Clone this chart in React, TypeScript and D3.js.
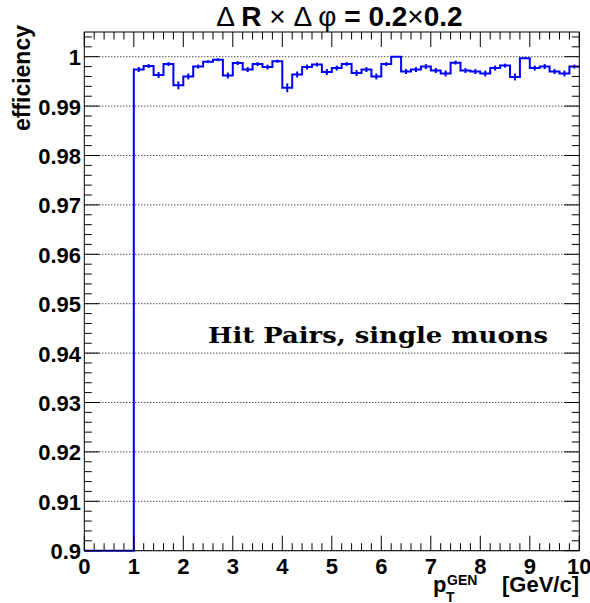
import React from "react";
import * as d3 from "d3";

// Histogram: bins of width 0.2 GeV/c from 0 to 10
const binWidth = 0.2;
const binLowEdges = d3.range(0, 10 - 1e-9, binWidth);

// efficiency per bin (0–1 GeV/c bins are empty)
const efficiency = [
  0, 0, 0, 0, 0,
  0.9974, 0.9981, 0.9963, 0.9985, 0.9942,
  0.996, 0.998, 0.999, 0.9994, 0.9962,
  0.9987, 0.9974, 0.9985, 0.9979, 0.9991,
  0.9937, 0.9964, 0.9979, 0.9984, 0.9969,
  0.9977, 0.9985, 0.9967, 0.9974, 0.996,
  0.9985, 1.0, 0.997, 0.9974, 0.998,
  0.9972, 0.9966, 0.9988, 0.9972, 0.997,
  0.9966, 0.9977, 0.9982, 0.9959, 0.9997,
  0.9977, 0.998, 0.997, 0.9966, 0.998,
];

const efficiencyError = [
  0, 0, 0, 0, 0,
  0.0005, 0.0004, 0.0006, 0.0004, 0.0008,
  0.0006, 0.0004, 0.0003, 0.0003, 0.0006,
  0.0004, 0.0005, 0.0004, 0.0005, 0.0003,
  0.0009, 0.0006, 0.0005, 0.0004, 0.0006,
  0.0005, 0.0004, 0.0006, 0.0005, 0.0006,
  0.0004, 0, 0.0005, 0.0005, 0.0005,
  0.0005, 0.0006, 0.0004, 0.0005, 0.0005,
  0.0006, 0.0005, 0.0004, 0.0007, 0.0002,
  0.0005, 0.0005, 0.0005, 0.0006, 0.0004,
];

const xMajorTicks = [0, 1, 2, 3, 4, 5, 6, 7, 8, 9, 10];
const yMajorTicks = [0.9, 0.91, 0.92, 0.93, 0.94, 0.95, 0.96, 0.97, 0.98, 0.99, 1.0];
const yTickLabels = ["0.9", "0.91", "0.92", "0.93", "0.94", "0.95", "0.96", "0.97", "0.98", "0.99", "1"];

const FRAME = { left: 84.3, right: 579.3, top: 32, bottom: 550.7 };
const SANS = "'Liberation Sans', Arial, Helvetica, sans-serif";
const BLUE = "#0000ff";

export default function App() {
  const x = d3.scaleLinear().domain([0, 10]).range([FRAME.left, FRAME.right]);
  const y = d3.scaleLinear().domain([0.9, 1.005]).range([FRAME.bottom, FRAME.top]).clamp(true);

  const xMinor = d3.range(0, 10.0001, 0.2).filter((v) => Math.abs(v - Math.round(v)) > 1e-6);
  const yMinor = d3.range(0.9, 1.0051, 0.002).filter((v) => Math.abs(v * 100 - Math.round(v * 100)) > 1e-6);

  // step outline
  let d = "";
  binLowEdges.forEach((lo, i) => {
    const yy = y(efficiency[i]);
    if (i === 0) d += `M${x(lo)},${yy}`;
    else d += `V${yy}`;
    d += `H${x(lo + binWidth)}`;
  });

  const majorLen = 15;
  const minorLen = 7.5;

  return (
    <svg width={590} height={603} style={{ position: "absolute", left: 0, top: 0, background: "#fff" }}>
      <rect x={0} y={0} width={590} height={603} fill="#fff" />
      {/* grid */}
      {yMajorTicks.map((t) => (
        <line key={"g" + t} x1={FRAME.left} x2={FRAME.right} y1={y(t)} y2={y(t)} stroke="#000" strokeWidth={1} strokeDasharray="1,2" />
      ))}
      {/* histogram */}
      <path d={d} fill="none" stroke={BLUE} strokeWidth={2} />
      {binLowEdges.map((lo, i) =>
        efficiencyError[i] > 0 ? (
          <line key={"e" + i} x1={x(lo + binWidth / 2)} x2={x(lo + binWidth / 2)}
            y1={y(efficiency[i] - efficiencyError[i])} y2={y(efficiency[i] + efficiencyError[i])}
            stroke={BLUE} strokeWidth={2} />
        ) : null
      )}
      {/* frame */}
      <rect x={FRAME.left} y={FRAME.top} width={FRAME.right - FRAME.left} height={FRAME.bottom - FRAME.top} fill="none" stroke="#000" strokeWidth={1} />
      {/* x ticks (bottom & top) */}
      {xMajorTicks.map((t) => (
        <g key={"xt" + t}>
          <line x1={x(t)} x2={x(t)} y1={FRAME.bottom} y2={FRAME.bottom - majorLen} stroke="#000" />
          <line x1={x(t)} x2={x(t)} y1={FRAME.top} y2={FRAME.top + majorLen} stroke="#000" />
        </g>
      ))}
      {xMinor.map((t) => (
        <g key={"xm" + t}>
          <line x1={x(t)} x2={x(t)} y1={FRAME.bottom} y2={FRAME.bottom - minorLen} stroke="#000" />
          <line x1={x(t)} x2={x(t)} y1={FRAME.top} y2={FRAME.top + minorLen} stroke="#000" />
        </g>
      ))}
      {/* y ticks (left & right) */}
      {yMajorTicks.map((t) => (
        <g key={"yt" + t}>
          <line x1={FRAME.left} x2={FRAME.left + majorLen} y1={y(t)} y2={y(t)} stroke="#000" />
          <line x1={FRAME.right} x2={FRAME.right - majorLen} y1={y(t)} y2={y(t)} stroke="#000" />
        </g>
      ))}
      {yMinor.map((t) => (
        <g key={"ym" + t}>
          <line x1={FRAME.left} x2={FRAME.left + minorLen} y1={y(t)} y2={y(t)} stroke="#000" />
          <line x1={FRAME.right} x2={FRAME.right - minorLen} y1={y(t)} y2={y(t)} stroke="#000" />
        </g>
      ))}
      {/* tick labels */}
      {xMajorTicks.map((t) => (
        <text key={"xl" + t} x={x(t)} y={574} textAnchor="middle" fontFamily={SANS} fontWeight="bold" fontSize={22}>
          {String(t)}
        </text>
      ))}
      {yMajorTicks.map((t, i) => (
        <text key={"yl" + t} x={81} y={y(t) + 8.5} textAnchor="end" fontFamily={SANS} fontWeight="bold" fontSize={22}>
          {yTickLabels[i]}
        </text>
      ))}
      {/* axis titles */}
      <text transform="translate(30,25) rotate(-90)" textAnchor="end" fontFamily={SANS} fontWeight="bold" fontSize={23}>
        efficiency
      </text>
      <text x={433} y={592} fontFamily={SANS} fontWeight="bold" fontSize={22}>p</text>
      <text x={446} y={602} fontFamily={SANS} fontWeight="bold" fontSize={14}>T</text>
      <text x={447} y={585} fontFamily={SANS} fontWeight="bold" fontSize={14}>GEN</text>
      <text x={579} y={592} textAnchor="end" fontFamily={SANS} fontWeight="bold" fontSize={22}>[GeV/c]</text>
      {/* title */}
      <text x={339.5} y={26} textAnchor="middle" fontFamily={SANS} fontSize={28}>
        <tspan>Δ </tspan>
        <tspan fontWeight="bold">R </tspan>
        <tspan>× Δ φ </tspan>
        <tspan fontWeight="bold">= 0.2</tspan>
        <tspan>×</tspan>
        <tspan fontWeight="bold">0.2</tspan>
      </text>
      {/* annotation */}
      <text x={208} y={343} fontFamily="'DejaVu Serif', 'Liberation Serif', serif" fontWeight="bold" fontSize={22}
        textLength={340} lengthAdjust="spacingAndGlyphs">
        Hit Pairs, single muons
      </text>
    </svg>
  );
}
